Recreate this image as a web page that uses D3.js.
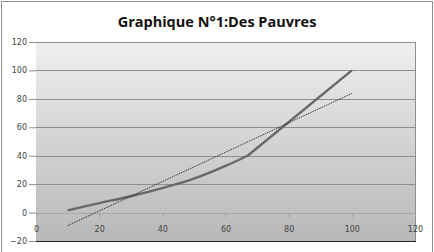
<!DOCTYPE html>
<html lang="fr">
<head>
<meta charset="utf-8">
<style>
    body { margin: 0; background: #fff; }
    svg { display: block; }
    .tick text { font-family: "DejaVu Sans", sans-serif; font-size: 8px; fill: #444; }
</style>
</head>
<body>
<svg width="434" height="252"></svg>
<script src="https://d3js.org/d3.v7.min.js"></script>
<script>
    // données du graphique
    var xValues = [10, 20, 30, 40, 50, 60, 67, 100];
    var yValues = [1.5, 6.6, 11.5, 17.2, 23.8, 32.8, 40, 100];
    var xTicks = [0, 20, 40, 60, 80, 100, 120];
    var yTicks = [-20, 0, 20, 40, 60, 80, 100, 120];
    var title = "Graphique N°1:Des Pauvres";

    var svg = d3.select("svg"),
        plotLeft = 36, plotRight = 415, plotTop = 42, plotBottom = 241;

    var x = d3.scaleLinear().domain([0, 120]).range([plotLeft, plotRight]);
    var y = d3.scaleLinear().domain([-20, 120]).range([plotBottom, plotTop]);

    // cadre extérieur
    svg.append("rect")
        .attr("x", 1.5).attr("y", 1.5)
        .attr("width", 431).attr("height", 260)
        .attr("fill", "#fff").attr("stroke", "#8c8c8c").attr("stroke-width", 1);

    var grad = svg.append("defs").append("linearGradient")
        .attr("id", "fond").attr("x1", 0).attr("y1", 0).attr("x2", 0).attr("y2", 1);
    grad.append("stop").attr("offset", "0%").attr("stop-color", "#efefef");
    grad.append("stop").attr("offset", "100%").attr("stop-color", "#b8b8b8");

    svg.append("rect")
        .attr("x", plotLeft).attr("y", plotTop)
        .attr("width", plotRight - plotLeft).attr("height", plotBottom - plotTop)
        .attr("fill", "url(#fond)");

    // grille
    svg.append("g").selectAll("line")
        .data(yTicks.filter(function (d) { return d > -20; }))
        .enter().append("line")
        .attr("x1", plotLeft).attr("x2", plotRight)
        .attr("y1", function (d) { return Math.round(y(d)) + 0.5; })
        .attr("y2", function (d) { return Math.round(y(d)) + 0.5; })
        .attr("stroke", function (d) { return d === 0 ? "#a8a8a8" : "#8e8e8e"; });

    svg.append("line")
        .attr("x1", plotRight + 0.5).attr("x2", plotRight + 0.5)
        .attr("y1", plotTop).attr("y2", plotBottom)
        .attr("stroke", "#8e8e8e");

    svg.append("line")
        .attr("x1", plotLeft).attr("x2", plotRight + 1)
        .attr("y1", plotBottom + 0.5).attr("y2", plotBottom + 0.5)
        .attr("stroke", "#222").attr("stroke-width", 1.2);

    // axe Y
    var yAxis = svg.append("g")
        .attr("transform", "translate(" + plotLeft + ",0)")
        .call(d3.axisLeft(y).tickValues(yTicks).tickSize(7).tickPadding(2));
    yAxis.select(".domain").remove();
    yAxis.selectAll(".tick line").attr("stroke", "#8e8e8e");

    // axe X (croise à 0)
    var xAxis = svg.append("g")
        .attr("transform", "translate(0," + (Math.round(y(0)) + 0.5) + ")")
        .call(d3.axisBottom(x).tickValues(xTicks).tickSize(4).tickPadding(9));
    xAxis.select(".domain").remove();
    xAxis.selectAll(".tick line").attr("stroke", "#a0a0a0");

    // courbe : lissée jusqu'à 67, puis segment droit jusqu'au dernier point
    var pts = xValues.map(function (d, i) { return [d, yValues[i]]; });
    var lisse = d3.line()
        .x(function (d) { return x(d[0]); })
        .y(function (d) { return y(d[1]); })
        .curve(d3.curveMonotoneX);
    var last = pts[pts.length - 1];
    svg.append("path")
        .attr("fill", "none")
        .attr("stroke", "#686868")
        .attr("stroke-width", 2.4)
        .attr("stroke-linejoin", "round")
        .attr("d", lisse(pts.slice(0, -1)) + "L" + x(last[0]) + "," + y(last[1]));

    // courbe de tendance linéaire (moindres carrés)
    var mx = d3.mean(xValues), my = d3.mean(yValues);
    var sxy = d3.sum(xValues, function (d, i) { return (d - mx) * (yValues[i] - my); });
    var sxx = d3.sum(xValues, function (d) { return (d - mx) * (d - mx); });
    var a = sxy / sxx, b = my - a * mx;
    var x0 = d3.min(xValues), x1 = d3.max(xValues);
    svg.append("line")
        .attr("x1", x(x0)).attr("y1", y(a * x0 + b))
        .attr("x2", x(x1)).attr("y2", y(a * x1 + b))
        .attr("stroke", "#222")
        .attr("stroke-width", 0.9)
        .attr("stroke-dasharray", "1.5,1");

    // titre
    svg.append("text")
        .attr("x", 217).attr("y", 27)
        .attr("text-anchor", "middle")
        .attr("font-family", "'Open Sans', sans-serif")
        .attr("font-weight", "bold")
        .attr("font-size", "14.5px")
        .attr("fill", "#111")
        .text(title);
</script>
</body>
</html>
